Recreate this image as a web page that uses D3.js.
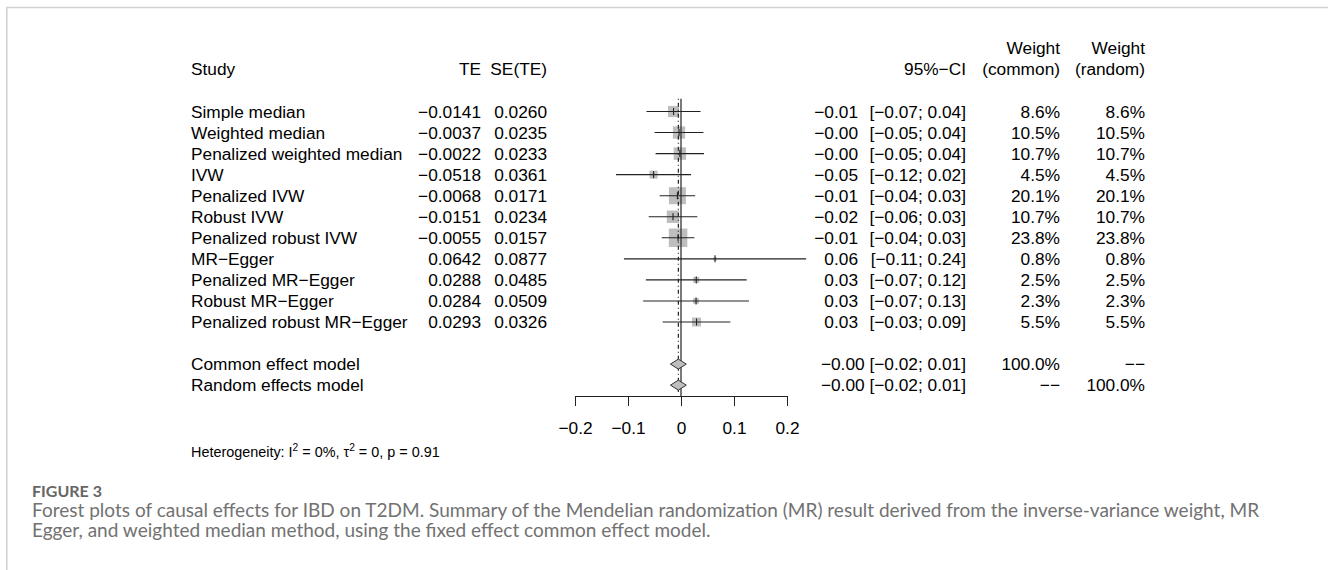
<!DOCTYPE html>
<html>
<head>
<meta charset="utf-8">
<script src="https://cdn.jsdelivr.net/npm/d3@7"></script>
<style>
  body { margin: 0; background: #fff; }
</style>
</head>
<body>
<svg id="forest" width="1328" height="570" font-family="'Liberation Sans', Arial, sans-serif"></svg>
<script>
// Study-level results
const studies = ["Simple median", "Weighted median", "Penalized weighted median", "IVW", "Penalized IVW",
  "Robust IVW", "Penalized robust IVW", "MR\u2212Egger", "Penalized MR\u2212Egger", "Robust MR\u2212Egger",
  "Penalized robust MR\u2212Egger"];
const te = [-0.0141, -0.0037, -0.0022, -0.0518, -0.0068, -0.0151, -0.0055, 0.0642, 0.0288, 0.0284, 0.0293];
const seTE = [0.0260, 0.0235, 0.0233, 0.0361, 0.0171, 0.0234, 0.0157, 0.0877, 0.0485, 0.0509, 0.0326];
const ciLow = [-0.0651, -0.0498, -0.0479, -0.1226, -0.0403, -0.0610, -0.0363, -0.1077, -0.0663, -0.0714, -0.0346];
const ciHigh = [0.0369, 0.0424, 0.0435, 0.0190, 0.0267, 0.0308, 0.0253, 0.2361, 0.1239, 0.1282, 0.0932];
const estLabels = ["\u22120.01", "\u22120.00", "\u22120.00", "\u22120.05", "\u22120.01", "\u22120.02", "\u22120.01",
  "0.06", "0.03", "0.03", "0.03"];
const ciLabels = ["[\u22120.07; 0.04]", "[\u22120.05; 0.04]", "[\u22120.05; 0.04]", "[\u22120.12; 0.02]",
  "[\u22120.04; 0.03]", "[\u22120.06; 0.03]", "[\u22120.04; 0.03]", "[\u22120.11; 0.24]", "[\u22120.07; 0.12]",
  "[\u22120.07; 0.13]", "[\u22120.03; 0.09]"];
const weightCommon = [8.6, 10.5, 10.7, 4.5, 20.1, 10.7, 23.8, 0.8, 2.5, 2.3, 5.5];
const weightRandom = [8.6, 10.5, 10.7, 4.5, 20.1, 10.7, 23.8, 0.8, 2.5, 2.3, 5.5];

// Pooled results
const models = ["Common effect model", "Random effects model"];
const modelEst = [-0.0050, -0.0050];
const modelLow = [-0.0200, -0.0200];
const modelHigh = [0.0100, 0.0100];
const modelCiLabels = ["\u22120.00 [\u22120.02; 0.01]", "\u22120.00 [\u22120.02; 0.01]"];
const modelWeightCommon = ["100.0%", "\u2212\u2212"];
const modelWeightRandom = ["\u2212\u2212", "100.0%"];

const xTicks = [-0.2, -0.1, 0, 0.1, 0.2];

const svg = d3.select("#forest");
const fs = 17.3;

const x = d3.scaleLinear().domain([-0.2, 0.2]).range([575, 787]);
const row = d3.scaleLinear().domain([0, 1]).range([111.5, 132.55]);
const box = d3.scaleSqrt().domain([0, d3.max(weightCommon)]).range([0, 18.5]);
const fmt4 = d3.format(".4f");
const fmtW = d3.format(".1f");
const modelRow = i => 12 + i;

// page frame
svg.append("line").attr("x1", 6).attr("x2", 1328).attr("y1", 7.5).attr("y2", 7.5)
  .attr("stroke", "#d2d2d2").attr("stroke-width", 1.6);
svg.append("line").attr("x1", 6.8).attr("x2", 6.8).attr("y1", 7).attr("y2", 570)
  .attr("stroke", "#d2d2d2").attr("stroke-width", 1.6);

// headers
function txt(xp, yp, s, anchor, size) {
  return svg.append("text").attr("x", xp).attr("y", yp).attr("dy", "0.35em")
    .attr("text-anchor", anchor || "start").attr("font-size", size || fs).attr("fill", "#000").text(s);
}
txt(191, row(-2), "Study");
txt(481, row(-2), "TE", "end");
txt(547, row(-2), "SE(TE)", "end");
txt(966, row(-2), "95%\u2212CI", "end");
txt(1060, row(-3), "Weight", "end");
txt(1060, row(-2), "(common)", "end");
txt(1145, row(-3), "Weight", "end");
txt(1145, row(-2), "(random)", "end");

// study rows text
studies.forEach((s, i) => {
  txt(191, row(i), s);
  txt(481, row(i), fmt4(te[i]), "end");
  txt(547, row(i), fmt4(seTE[i]), "end");
  txt(858, row(i), estLabels[i], "end");
  txt(966, row(i), ciLabels[i], "end");
  txt(1060, row(i), fmtW(weightCommon[i]) + "%", "end");
  txt(1145, row(i), fmtW(weightRandom[i]) + "%", "end");
});
models.forEach((m, i) => {
  txt(191, row(modelRow(i)), m);
  txt(966, row(modelRow(i)), modelCiLabels[i], "end");
  txt(1060, row(modelRow(i)), modelWeightCommon[i], "end");
  txt(1145, row(modelRow(i)), modelWeightRandom[i], "end");
});

// squares
svg.append("g").selectAll("rect").data(studies).join("rect")
  .attr("x", (d, i) => x(te[i]) - box(weightCommon[i]) / 2)
  .attr("y", (d, i) => row(i) - box(weightCommon[i]) / 2)
  .attr("width", (d, i) => box(weightCommon[i]))
  .attr("height", (d, i) => box(weightCommon[i]))
  .attr("fill", "#bebebe");

// reference lines
svg.append("line").attr("x1", x(0)).attr("x2", x(0)).attr("y1", row(-0.6)).attr("y2", 396)
  .attr("stroke", "#333").attr("stroke-width", 1.3);
svg.append("line").attr("x1", x(modelEst[0])).attr("x2", x(modelEst[0])).attr("y1", row(-0.6)).attr("y2", 392)
  .attr("stroke", "#222").attr("stroke-width", 1.2).attr("stroke-dasharray", "1,3,4,3");

// CI lines and estimate ticks
const ci = svg.append("g").attr("stroke", "#222").attr("stroke-width", 1.1);
studies.forEach((s, i) => {
  ci.append("line").attr("x1", x(ciLow[i])).attr("x2", x(ciHigh[i])).attr("y1", row(i)).attr("y2", row(i));
  ci.append("line").attr("x1", x(te[i])).attr("x2", x(te[i])).attr("y1", row(i) - 3.5).attr("y2", row(i) + 3.5);
});

// diamonds
svg.append("g").selectAll("path").data(models).join("path")
  .attr("d", (d, i) => {
    const yc = row(modelRow(i));
    return `M${x(modelLow[i])},${yc}L${x(modelEst[i])},${yc - 5}L${x(modelHigh[i])},${yc}L${x(modelEst[i])},${yc + 5}Z`;
  })
  .attr("fill", "#bebebe").attr("stroke", "#333").attr("stroke-width", 1);

// axis
const axis = svg.append("g").attr("transform", "translate(0,396)")
  .call(d3.axisBottom(x).tickValues(xTicks).tickSize(10).tickSizeOuter(0).tickPadding(16)
    .tickFormat(d => d === 0 ? "0" : d3.format(".1f")(d)));
axis.attr("font-family", null);
axis.select(".domain").attr("stroke", "#222");
axis.selectAll(".tick line").attr("stroke", "#222");
axis.selectAll("text").attr("font-size", fs).attr("fill", "#000");

// heterogeneity
const het = svg.append("text").attr("x", 191).attr("y", 452).attr("dy", "0.35em").attr("font-size", 14.4);
het.append("tspan").text("Heterogeneity: I");
het.append("tspan").attr("dy", -6.5).attr("font-size", 10.2).text("2");
het.append("tspan").attr("dy", 6.5).text(" = 0%, \u03c4");
het.append("tspan").attr("dy", -6.5).attr("font-size", 10.2).text("2");
het.append("tspan").attr("dy", 6.5).text(" = 0, p = 0.91");

// caption
svg.append("text").attr("x", 32).attr("y", 491).attr("dy", "0.35em")
  .attr("font-family", "Lato, 'Open Sans', sans-serif").attr("font-weight", 700)
  .attr("font-size", 16).attr("fill", "#666").text("FIGURE 3");
const capLines = [
  "Forest plots of causal effects for IBD on T2DM. Summary of the Mendelian randomization (MR) result derived from the inverse-variance weight, MR",
  "Egger, and weighted median method, using the fixed effect common effect model."
];
const cap = svg.selectAll(".cap").data(capLines).join("text").attr("class", "cap")
  .attr("x", 32).attr("y", (d, i) => 510 + i * 20.5).attr("dy", "0.35em")
  .attr("font-family", "Lato, 'Open Sans', sans-serif").attr("font-size", 17)
  .attr("fill", "#727272").text(d => d);
// fit caption width to the reference line length
const len = cap.node().getComputedTextLength();
cap.attr("font-size", 17 * 1228 / len);
</script>
</body>
</html>
